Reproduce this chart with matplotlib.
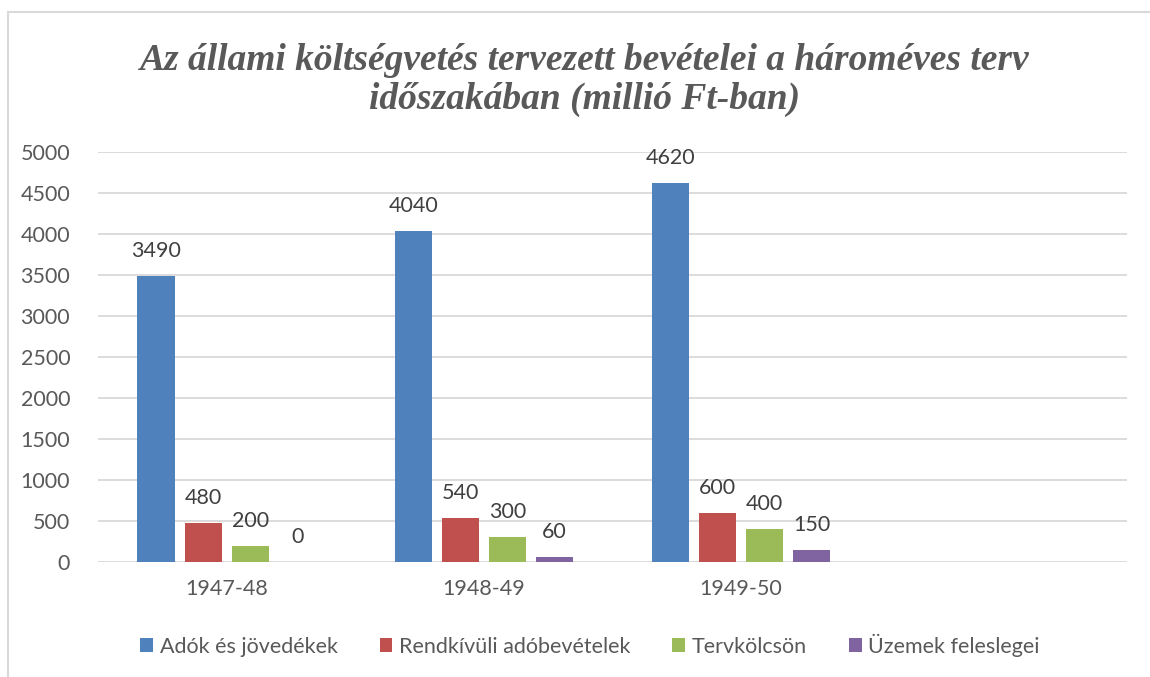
import matplotlib
matplotlib.use("Agg")
import matplotlib.pyplot as plt
import numpy as np
from matplotlib.patches import Rectangle

categories = ["1947-48", "1948-49", "1949-50", ""]
series_names = ["Adók és jövedékek", "Rendkívüli adóbevételek", "Tervkölcsön", "Üzemek feleslegei"]
adok = [3490, 4040, 4620]
rendkivuli = [480, 540, 600]
tervkolcson = [200, 300, 400]
uzemek = [0, 60, 150]
colors = ["#4F81BD", "#C0504D", "#9BBB59", "#8064A2"]
yticks = [0, 500, 1000, 1500, 2000, 2500, 3000, 3500, 4000, 4500, 5000]

W, H = 1150, 677
fig = plt.figure(figsize=(W / 100, H / 100), dpi=100)
fig.patch.set_facecolor("white")
# outer chart border
fig.add_artist(Rectangle((8 / W, -0.1), 1.2, 1 - 12 / H + 0.1, transform=fig.transFigure,
                         fill=False, edgecolor="#D9D9D9", linewidth=1.5))

ax = fig.add_axes([98 / W, 1 - 562 / H, (1127 - 98) / W, (562 - 152) / H])
font = "Lato"
fs = 15.5
x = np.arange(len(categories))
width = 0.144
step = 0.183
all_series = [adok, rendkivuli, tervkolcson, uzemek]
for i, (vals, name, c) in enumerate(zip(all_series, series_names, colors)):
    xs = x[:len(vals)] + (i - 1.5) * step
    ax.bar(xs, vals, width=width, color=c, label=name, zorder=3)
    for xi, v in zip(xs, vals):
        ax.annotate(str(v), (xi, v), xytext=(0, 18), textcoords="offset points",
                    ha="center", va="center", fontsize=fs, color="#404040", family=font)

ax.set_xlim(-0.5, 3.5)
ax.set_ylim(0, 5000)
ax.set_yticks(yticks)
ax.set_yticklabels([str(t) for t in yticks], fontsize=fs, color="#595959", family=font)
ax.set_xticks(x)
ax.set_xticklabels(categories, fontsize=fs, color="#595959", family=font)
ax.tick_params(axis="both", length=0)
ax.tick_params(axis="y", pad=20)
ax.tick_params(axis="x", pad=12)
ax.grid(axis="y", color="#D9D9D9", linewidth=1.3, zorder=0)
for s in ax.spines.values():
    s.set_visible(False)

fig.text(585 / W, 1 - 80 / H, "Az állami költségvetés tervezett bevételei a hároméves terv\nidőszakában (millió Ft-ban)",
         ha="center", va="center", fontsize=27, fontweight="bold", fontstyle="italic",
         family="Liberation Serif", color="#595959", linespacing=1.15)

leg = fig.legend(loc="center", bbox_to_anchor=(590 / W, 1 - 645 / H), ncol=4, frameon=False,
                 prop={"family": font, "size": fs}, handlelength=0.6, handleheight=0.6,
                 handletextpad=0.3, columnspacing=1.95)
for t in leg.get_texts():
    t.set_color("#595959")

fig.savefig("out.png", dpi=100)
